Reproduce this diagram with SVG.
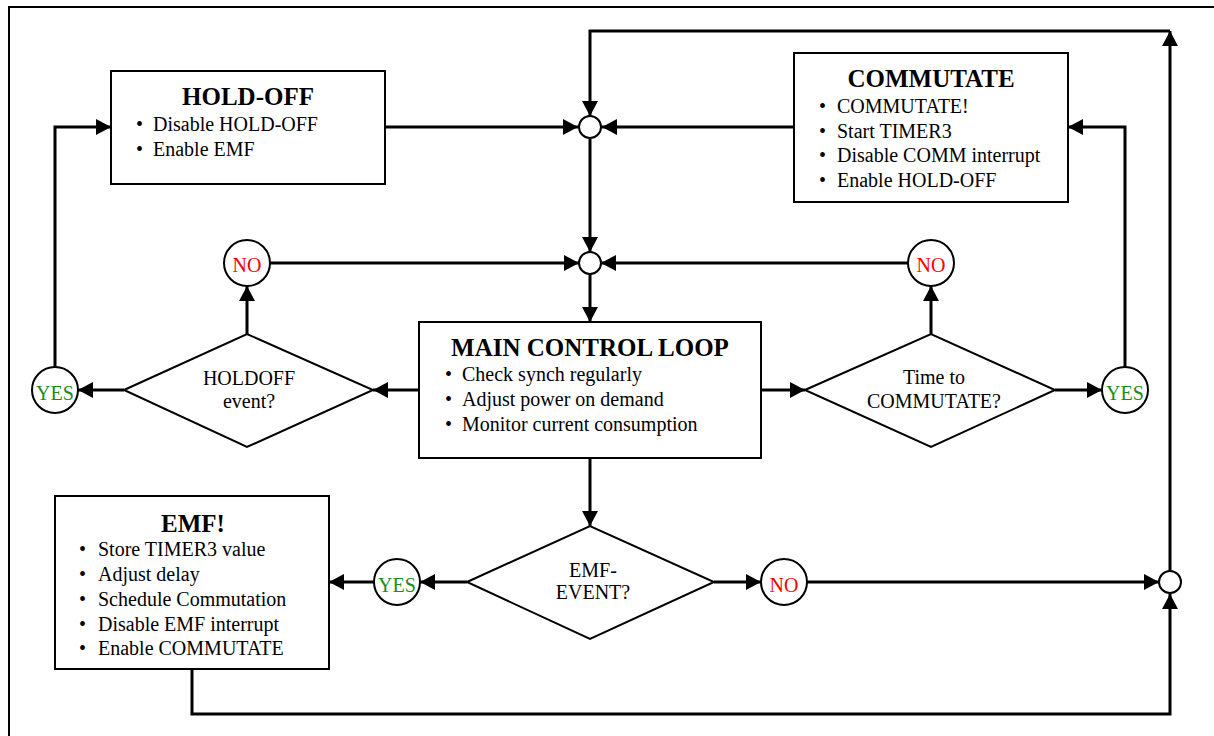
<svg xmlns="http://www.w3.org/2000/svg" width="1214" height="736" viewBox="0 0 1214 736">
<style>
text{font-family:"Liberation Serif","Times New Roman",serif;fill:#000}
.title{font-size:25px;font-weight:bold;text-anchor:middle}
.item{font-size:20px}
.dia{font-size:20px;text-anchor:middle}
.lab{font-size:20px;text-anchor:middle}
.no{fill:#ff0000}
.yes{fill:#1a8c1a}
.box{fill:#fff;stroke:#000;stroke-width:2}
.node{fill:#fff;stroke:#000;stroke-width:2}
.conn{fill:none;stroke:#000;stroke-width:3}
</style>
<defs>
<marker id="arr" markerUnits="userSpaceOnUse" markerWidth="16" markerHeight="16" viewBox="0 0 16 16" refX="15" refY="8" orient="auto">
<path d="M0,0 L15,8 L0,16 z" fill="#000"/>
</marker>
</defs>
<rect x="0" y="0" width="1214" height="736" fill="#fff"/>
<path d="M9,736 V7 H1214" fill="none" stroke="#000" stroke-width="2"/>

<g id="connectors">
<!-- top loop from bottom-right junction -->
<path class="conn" d="M1170,572 V31" marker-end="url(#arr)"/>
<path class="conn" d="M1170,31 H590 V116" marker-end="url(#arr)"/>
<!-- HOLD-OFF to junction 1 -->
<path class="conn" d="M385,127 H578" marker-end="url(#arr)"/>
<!-- COMMUTATE to junction 1 -->
<path class="conn" d="M794,127 H602" marker-end="url(#arr)"/>
<!-- junction 1 to junction 2 -->
<path class="conn" d="M590,139 V252" marker-end="url(#arr)"/>
<!-- NO left to junction 2 -->
<path class="conn" d="M270,263 H579" marker-end="url(#arr)"/>
<!-- NO right to junction 2 -->
<path class="conn" d="M908,263 H601" marker-end="url(#arr)"/>
<!-- junction 2 to MAIN -->
<path class="conn" d="M590,274 V322" marker-end="url(#arr)"/>
<!-- MAIN to HOLDOFF diamond -->
<path class="conn" d="M419,390 H373" marker-end="url(#arr)"/>
<!-- MAIN to Time diamond -->
<path class="conn" d="M761,390 H805" marker-end="url(#arr)"/>
<!-- HOLDOFF diamond to YES left -->
<path class="conn" d="M124,390 H78" marker-end="url(#arr)"/>
<!-- HOLDOFF diamond to NO left -->
<path class="conn" d="M247,334 V286" marker-end="url(#arr)"/>
<!-- YES left to HOLD-OFF -->
<path class="conn" d="M55,367 V127 H111" marker-end="url(#arr)"/>
<!-- Time diamond to NO right -->
<path class="conn" d="M931,334 V286" marker-end="url(#arr)"/>
<!-- Time diamond to YES right -->
<path class="conn" d="M1055,390 H1102" marker-end="url(#arr)"/>
<!-- YES right to COMMUTATE -->
<path class="conn" d="M1125,367 V127 H1068" marker-end="url(#arr)"/>
<!-- MAIN to EMF diamond -->
<path class="conn" d="M590,458 V526" marker-end="url(#arr)"/>
<!-- EMF diamond to YES bottom -->
<path class="conn" d="M467,582 H420" marker-end="url(#arr)"/>
<!-- YES bottom to EMF box -->
<path class="conn" d="M375,582 H329" marker-end="url(#arr)"/>
<!-- EMF diamond to NO bottom -->
<path class="conn" d="M714,582 H761" marker-end="url(#arr)"/>
<!-- NO bottom to junction 3 -->
<path class="conn" d="M807,582 H1159" marker-end="url(#arr)"/>
<!-- EMF box to junction 3 -->
<path class="conn" d="M192,669 V714 H1170 V594" marker-end="url(#arr)"/>
</g>

<g id="holdoff-box">
<rect class="box" x="111" y="71" width="274" height="113"/>
<text class="title" x="248" y="105">HOLD-OFF</text>
<text class="item" x="136" y="131">•</text><text class="item" x="153" y="131">Disable HOLD-OFF</text>
<text class="item" x="136" y="156">•</text><text class="item" x="153" y="156">Enable EMF</text>
</g>

<g id="commutate-box">
<rect class="box" x="794" y="53" width="274" height="149"/>
<text class="title" x="931" y="87">COMMUTATE</text>
<text class="item" x="819" y="113">•</text><text class="item" x="837" y="113">COMMUTATE!</text>
<text class="item" x="819" y="138">•</text><text class="item" x="837" y="138">Start TIMER3</text>
<text class="item" x="819" y="162">•</text><text class="item" x="837" y="162">Disable COMM interrupt</text>
<text class="item" x="819" y="187">•</text><text class="item" x="837" y="187">Enable HOLD-OFF</text>
</g>

<g id="junction-1"><circle class="node" cx="590" cy="127" r="11"/></g>
<g id="junction-2"><circle class="node" cx="590" cy="263" r="11"/></g>
<g id="junction-3"><circle class="node" cx="1170" cy="582" r="11"/></g>

<g id="no-left"><circle class="node" cx="247" cy="263" r="23"/><text class="lab no" x="247" y="272">NO</text></g>
<g id="no-right"><circle class="node" cx="931" cy="263" r="23"/><text class="lab no" x="931" y="272">NO</text></g>
<g id="yes-left"><circle class="node" cx="55" cy="390" r="23"/><text class="lab yes" x="55" y="400">YES</text></g>
<g id="yes-right"><circle class="node" cx="1125" cy="390" r="23"/><text class="lab yes" x="1125" y="400">YES</text></g>
<g id="yes-bottom"><circle class="node" cx="397" cy="582" r="23"/><text class="lab yes" x="397" y="592">YES</text></g>
<g id="no-bottom"><circle class="node" cx="784" cy="582" r="23"/><text class="lab no" x="784" y="592">NO</text></g>

<g id="holdoff-decision">
<polygon class="node" points="124,390 247,334 373,390 247,447"/>
<text class="dia" x="249" y="385">HOLDOFF</text>
<text class="dia" x="249" y="408">event?</text>
</g>

<g id="time-decision">
<polygon class="node" points="805,390 931,334 1055,390 931,447"/>
<text class="dia" x="934" y="384">Time to</text>
<text class="dia" x="934" y="408">COMMUTATE?</text>
</g>

<g id="main-loop">
<rect class="box" x="419" y="322" width="342" height="136"/>
<text class="title" x="590" y="356">MAIN CONTROL LOOP</text>
<text class="item" x="445" y="381">•</text><text class="item" x="462" y="381">Check synch regularly</text>
<text class="item" x="445" y="406">•</text><text class="item" x="462" y="406">Adjust power on demand</text>
<text class="item" x="445" y="431">•</text><text class="item" x="462" y="431">Monitor current consumption</text>
</g>

<g id="emf-decision">
<polygon class="node" points="467,582 590,526 714,582 590,639"/>
<text class="dia" x="593" y="577">EMF-</text>
<text class="dia" x="593" y="599">EVENT?</text>
</g>

<g id="emf-box">
<rect class="box" x="55" y="496" width="274" height="173"/>
<text class="title" x="193" y="532">EMF!</text>
<text class="item" x="79" y="556">•</text><text class="item" x="98" y="556">Store TIMER3 value</text>
<text class="item" x="79" y="581">•</text><text class="item" x="98" y="581">Adjust delay</text>
<text class="item" x="79" y="606">•</text><text class="item" x="98" y="606">Schedule Commutation</text>
<text class="item" x="79" y="631">•</text><text class="item" x="98" y="631">Disable EMF interrupt</text>
<text class="item" x="79" y="655">•</text><text class="item" x="98" y="655">Enable COMMUTATE</text>
</g>
</svg>
